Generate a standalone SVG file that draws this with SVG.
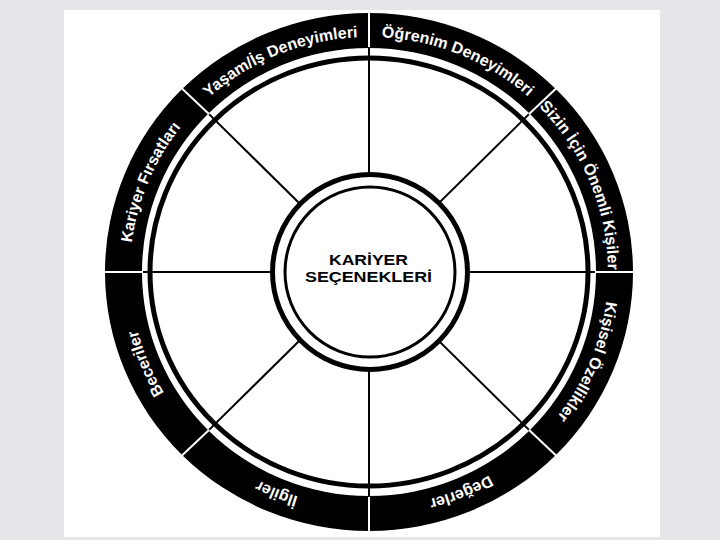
<svg xmlns="http://www.w3.org/2000/svg" xmlns:xlink="http://www.w3.org/1999/xlink" width="720" height="540" viewBox="0 0 720 540">
  <style>
    .lbl { font-family: "Liberation Sans", Arial, sans-serif; font-weight: bold; font-size: 16px; fill: #ffffff; }
    .ctr { font-family: "Liberation Sans", Arial, sans-serif; font-weight: bold; font-size: 15px; fill: #000000; }
    .spoke { stroke: #000000; stroke-width: 2; fill: none; }
    .div { stroke: #ffffff; stroke-width: 2; fill: none; }
  </style>
  <defs>
    <path id="p1" d="M 157.0 163.5 A 239 235 0 0 1 440.9 47.9"/>
    <path id="p2" d="M 297.1 47.9 A 239 235 0 0 1 581.0 163.5"/>
    <path id="p3" d="M 479.3 63.6 A 239 235 0 0 1 596.9 342.7"/>
    <path id="p4" d="M 596.9 201.3 A 239 235 0 0 1 479.3 480.4"/>
    <path id="p5" d="M 581.0 380.5 A 239 235 0 0 1 297.1 496.1"/>
    <path id="p6" d="M 440.9 496.1 A 239 235 0 0 1 157.0 380.5"/>
    <path id="p7" d="M 258.7 480.4 A 239 235 0 0 1 141.1 201.3"/>
    <path id="p8" d="M 141.1 342.7 A 239 235 0 0 1 258.7 63.6"/>
  </defs>

  <rect x="0" y="0" width="720" height="540" fill="#e6e6ea"/>
  <rect x="64" y="10" width="596" height="527" fill="#ffffff"/>

  <g id="connectors">
    <line class="spoke" x1="369" y1="48" x2="369" y2="496"/>
    <line class="spoke" x1="142" y1="272" x2="596" y2="272"/>
    <line class="spoke" x1="208.5" y1="113.6" x2="529.5" y2="430.4"/>
    <line class="spoke" x1="529.5" y1="113.6" x2="208.5" y2="430.4"/>
  </g>

  <g id="wheel">
    <ellipse cx="369" cy="272" rx="219" ry="214" fill="none" stroke="#000000" stroke-width="5"/>
    <path fill="#000000" fill-rule="evenodd" d="M 105 272 A 264 259 0 1 0 633 272 A 264 259 0 1 0 105 272 Z M 142 272 A 227 224 0 1 0 596 272 A 227 224 0 1 0 142 272 Z"/>
    <line class="div" x1="369" y1="47" x2="369" y2="11"/>
    <line class="div" x1="369" y1="497" x2="369" y2="533"/>
    <line class="div" x1="143" y1="272" x2="103" y2="272"/>
    <line class="div" x1="595" y1="272" x2="635" y2="272"/>
    <line class="div" x1="209.2" y1="114.3" x2="180.9" y2="87.5"/>
    <line class="div" x1="528.8" y1="114.3" x2="557.1" y2="87.5"/>
    <line class="div" x1="209.2" y1="429.7" x2="180.9" y2="456.5"/>
    <line class="div" x1="528.8" y1="429.7" x2="557.1" y2="456.5"/>
  </g>

  <g id="center">
    <circle cx="370" cy="272" r="97.5" fill="#ffffff" stroke="#000000" stroke-width="5"/>
    <circle cx="370" cy="272" r="85" fill="none" stroke="#000000" stroke-width="3"/>
    <text class="ctr" x="368.5" y="264.5" text-anchor="middle" textLength="79" lengthAdjust="spacingAndGlyphs">KARİYER</text>
    <text class="ctr" x="368.5" y="281.5" text-anchor="middle" textLength="127" lengthAdjust="spacingAndGlyphs">SEÇENEKLERİ</text>
  </g>

  <g id="seg-yasam"><text class="lbl"><textPath href="#p1" xlink:href="#p1" startOffset="50%" text-anchor="middle">Yaşam/İş Deneyimleri</textPath></text></g>
  <g id="seg-ogrenim"><text class="lbl"><textPath href="#p2" xlink:href="#p2" startOffset="50%" text-anchor="middle">Öğrenim Deneyimleri</textPath></text></g>
  <g id="seg-kisiler"><text class="lbl"><textPath href="#p3" xlink:href="#p3" startOffset="50%" text-anchor="middle">Sizin İçin Önemli Kişiler</textPath></text></g>
  <g id="seg-ozellikler"><text class="lbl"><textPath href="#p4" xlink:href="#p4" startOffset="50%" text-anchor="middle">Kişisel Özellikler</textPath></text></g>
  <g id="seg-degerler"><text class="lbl"><textPath href="#p5" xlink:href="#p5" startOffset="50%" text-anchor="middle">Değerler</textPath></text></g>
  <g id="seg-ilgiler"><text class="lbl"><textPath href="#p6" xlink:href="#p6" startOffset="50%" text-anchor="middle">İlgiler</textPath></text></g>
  <g id="seg-beceriler"><text class="lbl"><textPath href="#p7" xlink:href="#p7" startOffset="50%" text-anchor="middle">Beceriler</textPath></text></g>
  <g id="seg-firsatlar"><text class="lbl"><textPath href="#p8" xlink:href="#p8" startOffset="50%" text-anchor="middle">Kariyer Fırsatları</textPath></text></g>
</svg>
